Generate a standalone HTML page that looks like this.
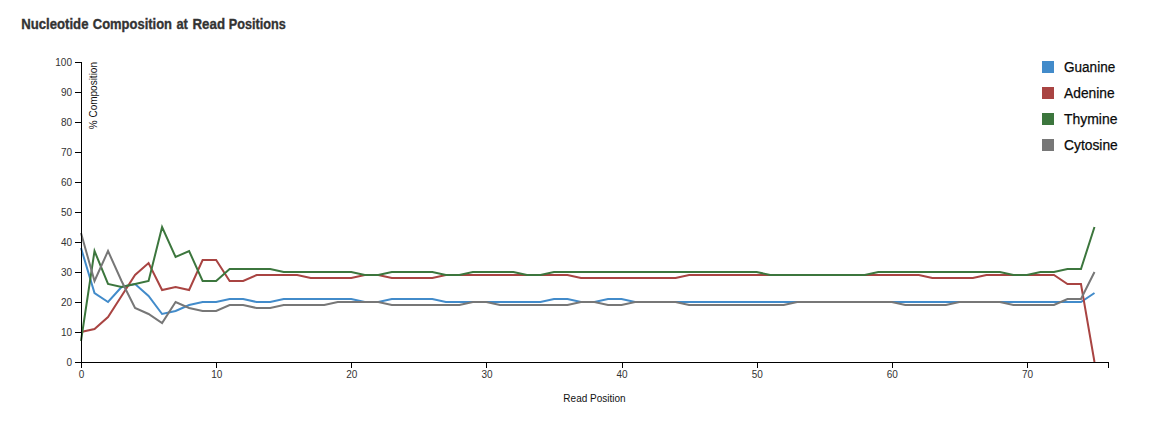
<!DOCTYPE html>
<html lang="en">
<head>
<meta charset="utf-8">
<title>Nucleotide Composition at Read Positions</title>
<style>
html,body{margin:0;padding:0;background:#fff;}
body{width:1160px;height:424px;overflow:hidden;font-family:"Liberation Sans",Arial,sans-serif;}
svg{display:block;}
.title{font-family:"Liberation Sans",Arial,sans-serif;font-weight:bold;font-size:14.8px;fill:#333;stroke:#333;stroke-width:0.35px;}
.axis path,.axis line{fill:none;stroke:#000;stroke-width:1;shape-rendering:crispEdges;}
.axis text{font-size:10px;fill:#333;}
.lbl{font-size:10px;fill:#111;}
.line{fill:none;stroke-width:2;stroke-linejoin:miter;}
.legend text{font-size:15.2px;fill:#0a0a0a;stroke:#0a0a0a;stroke-width:0.25px;}
</style>
</head>
<body>
<svg width="1160" height="424" viewBox="0 0 1160 424">
<text class="title" y="29"><tspan x="21.2" textLength="67.3" lengthAdjust="spacingAndGlyphs">Nucleotide</tspan> <tspan x="92.8" textLength="79.2" lengthAdjust="spacingAndGlyphs">Composition</tspan> <tspan x="176.4" textLength="11.5" lengthAdjust="spacingAndGlyphs">at</tspan> <tspan x="192.5" textLength="32.5" lengthAdjust="spacingAndGlyphs">Read</tspan> <tspan x="228.7" textLength="57.1" lengthAdjust="spacingAndGlyphs">Positions</tspan></text>

<path class="line" stroke="#428bca" d="M81,248L94.5132,293L108.026,302L121.539,287L135.053,284L148.566,296L162.079,314L175.592,311L189.105,305L202.618,302L216.132,302L229.645,299L243.158,299L256.671,302L270.184,302L283.697,299L297.211,299L310.724,299L324.237,299L337.75,299L351.263,299L364.776,302L378.289,302L391.803,299L405.316,299L418.829,299L432.342,299L445.855,302L459.368,302L472.882,302L486.395,302L499.908,302L513.421,302L526.934,302L540.447,302L553.961,299L567.474,299L580.987,302L594.5,302L608.013,299L621.526,299L635.039,302L648.553,302L662.066,302L675.579,302L689.092,302L702.605,302L716.118,302L729.632,302L743.145,302L756.658,302L770.171,302L783.684,302L797.197,302L810.711,302L824.224,302L837.737,302L851.25,302L864.763,302L878.276,302L891.789,302L905.303,302L918.816,302L932.329,302L945.842,302L959.355,302L972.868,302L986.382,302L999.895,302L1013.41,302L1026.92,302L1040.43,302L1053.95,302L1067.46,302L1080.97,302L1094.49,293"/>
<path class="line" stroke="#a94442" d="M81,332L94.5132,329L108.026,317L121.539,296L135.053,275L148.566,263L162.079,290L175.592,287L189.105,290L202.618,260L216.132,260L229.645,281L243.158,281L256.671,275L270.184,275L283.697,275L297.211,275L310.724,278L324.237,278L337.75,278L351.263,278L364.776,275L378.289,275L391.803,278L405.316,278L418.829,278L432.342,278L445.855,275L459.368,275L472.882,275L486.395,275L499.908,275L513.421,275L526.934,275L540.447,275L553.961,275L567.474,275L580.987,278L594.5,278L608.013,278L621.526,278L635.039,278L648.553,278L662.066,278L675.579,278L689.092,275L702.605,275L716.118,275L729.632,275L743.145,275L756.658,275L770.171,275L783.684,275L797.197,275L810.711,275L824.224,275L837.737,275L851.25,275L864.763,275L878.276,275L891.789,275L905.303,275L918.816,275L932.329,278L945.842,278L959.355,278L972.868,278L986.382,275L999.895,275L1013.41,275L1026.92,275L1040.43,275L1053.95,275L1067.46,284L1080.97,284L1094.49,362"/>
<path class="line" stroke="#3c763d" d="M81,341L94.5132,251L108.026,284L121.539,287L135.053,284L148.566,281L162.079,227L175.592,257L189.105,251L202.618,281L216.132,281L229.645,269L243.158,269L256.671,269L270.184,269L283.697,272L297.211,272L310.724,272L324.237,272L337.75,272L351.263,272L364.776,275L378.289,275L391.803,272L405.316,272L418.829,272L432.342,272L445.855,275L459.368,275L472.882,272L486.395,272L499.908,272L513.421,272L526.934,275L540.447,275L553.961,272L567.474,272L580.987,272L594.5,272L608.013,272L621.526,272L635.039,272L648.553,272L662.066,272L675.579,272L689.092,272L702.605,272L716.118,272L729.632,272L743.145,272L756.658,272L770.171,275L783.684,275L797.197,275L810.711,275L824.224,275L837.737,275L851.25,275L864.763,275L878.276,272L891.789,272L905.303,272L918.816,272L932.329,272L945.842,272L959.355,272L972.868,272L986.382,272L999.895,272L1013.41,275L1026.92,275L1040.43,272L1053.95,272L1067.46,269L1080.97,269L1094.49,227"/>
<path class="line" stroke="#777777" d="M81,233L94.5132,281L108.026,251L121.539,281L135.053,308L148.566,314L162.079,323L175.592,302L189.105,308L202.618,311L216.132,311L229.645,305L243.158,305L256.671,308L270.184,308L283.697,305L297.211,305L310.724,305L324.237,305L337.75,302L351.263,302L364.776,302L378.289,302L391.803,305L405.316,305L418.829,305L432.342,305L445.855,305L459.368,305L472.882,302L486.395,302L499.908,305L513.421,305L526.934,305L540.447,305L553.961,305L567.474,305L580.987,302L594.5,302L608.013,305L621.526,305L635.039,302L648.553,302L662.066,302L675.579,302L689.092,305L702.605,305L716.118,305L729.632,305L743.145,305L756.658,305L770.171,305L783.684,305L797.197,302L810.711,302L824.224,302L837.737,302L851.25,302L864.763,302L878.276,302L891.789,302L905.303,305L918.816,305L932.329,305L945.842,305L959.355,302L972.868,302L986.382,302L999.895,302L1013.41,305L1026.92,305L1040.43,305L1053.95,305L1067.46,299L1080.97,299L1094.49,272"/>
<g class="axis yaxis">
<path d="M75,62.5H81.5V362.5H75"/>
<line x1="75" x2="81" y1="362.5" y2="362.5"/>
<text x="72" y="362" dy="0.42em" text-anchor="end">0</text>
<line x1="75" x2="81" y1="332.5" y2="332.5"/>
<text x="72" y="332" dy="0.42em" text-anchor="end">10</text>
<line x1="75" x2="81" y1="302.5" y2="302.5"/>
<text x="72" y="302" dy="0.42em" text-anchor="end">20</text>
<line x1="75" x2="81" y1="272.5" y2="272.5"/>
<text x="72" y="272" dy="0.42em" text-anchor="end">30</text>
<line x1="75" x2="81" y1="242.5" y2="242.5"/>
<text x="72" y="242" dy="0.42em" text-anchor="end">40</text>
<line x1="75" x2="81" y1="212.5" y2="212.5"/>
<text x="72" y="212" dy="0.42em" text-anchor="end">50</text>
<line x1="75" x2="81" y1="182.5" y2="182.5"/>
<text x="72" y="182" dy="0.42em" text-anchor="end">60</text>
<line x1="75" x2="81" y1="152.5" y2="152.5"/>
<text x="72" y="152" dy="0.42em" text-anchor="end">70</text>
<line x1="75" x2="81" y1="122.5" y2="122.5"/>
<text x="72" y="122" dy="0.42em" text-anchor="end">80</text>
<line x1="75" x2="81" y1="92.5" y2="92.5"/>
<text x="72" y="92" dy="0.42em" text-anchor="end">90</text>
<line x1="75" x2="81" y1="62.5" y2="62.5"/>
<text x="72" y="62" dy="0.42em" text-anchor="end">100</text>
</g>
<text class="lbl" transform="translate(81,62) rotate(-90)" y="16.1" text-anchor="end">% Composition</text>
<g class="axis xaxis">
<path d="M81.5,368V362.5H1108.5V368"/>
<line x1="81.5" x2="81.5" y1="362" y2="368"/>
<text x="81.6" y="371" dy="0.71em" text-anchor="middle">0</text>
<line x1="216.5" x2="216.5" y1="362" y2="368"/>
<text x="216.732" y="371" dy="0.71em" text-anchor="middle">10</text>
<line x1="351.5" x2="351.5" y1="362" y2="368"/>
<text x="351.863" y="371" dy="0.71em" text-anchor="middle">20</text>
<line x1="486.5" x2="486.5" y1="362" y2="368"/>
<text x="486.995" y="371" dy="0.71em" text-anchor="middle">30</text>
<line x1="622.5" x2="622.5" y1="362" y2="368"/>
<text x="622.126" y="371" dy="0.71em" text-anchor="middle">40</text>
<line x1="757.5" x2="757.5" y1="362" y2="368"/>
<text x="757.258" y="371" dy="0.71em" text-anchor="middle">50</text>
<line x1="892.5" x2="892.5" y1="362" y2="368"/>
<text x="892.389" y="371" dy="0.71em" text-anchor="middle">60</text>
<line x1="1027.5" x2="1027.5" y1="362" y2="368"/>
<text x="1027.52" y="371" dy="0.71em" text-anchor="middle">70</text>
</g>
<text class="lbl" x="594.5" y="402" text-anchor="middle">Read Position</text>
<g class="legend">
<rect x="1042" y="61" width="12" height="12" fill="#428bca"/>
<text x="1064" y="72" textLength="51.2" lengthAdjust="spacingAndGlyphs">Guanine</text>
<rect x="1042" y="87" width="12" height="12" fill="#a94442"/>
<text x="1064" y="98" textLength="50.7" lengthAdjust="spacingAndGlyphs">Adenine</text>
<rect x="1042" y="113" width="12" height="12" fill="#3c763d"/>
<text x="1064" y="124" textLength="53.5" lengthAdjust="spacingAndGlyphs">Thymine</text>
<rect x="1042" y="139" width="12" height="12" fill="#777777"/>
<text x="1064" y="150" textLength="53.8" lengthAdjust="spacingAndGlyphs">Cytosine</text>
</g>
</svg>
</body>
</html>
